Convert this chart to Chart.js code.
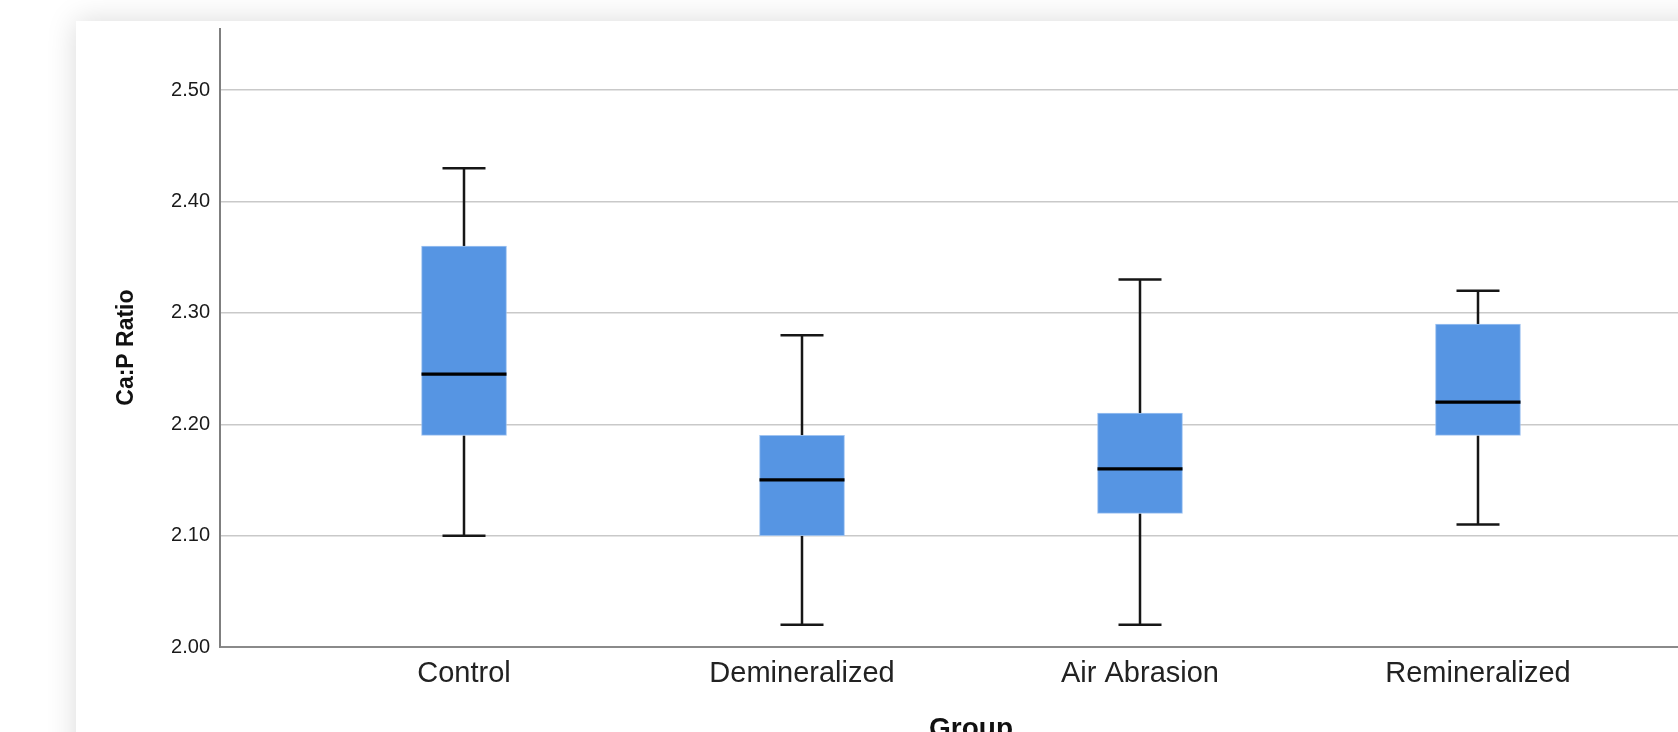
<!DOCTYPE html>
<html>
<head>
<meta charset="utf-8">
<script src="https://cdn.jsdelivr.net/npm/chart.js@4/dist/chart.umd.min.js"></script>
<style>
  html, body { margin: 0; padding: 0; width: 1678px; height: 732px; overflow: hidden; background: #ffffff; }
  #card { position: absolute; left: 76px; top: 21px; width: 1720px; height: 780px; background: #ffffff;
          box-shadow: 0 0 28px rgba(0,0,0,0.15); }
  #c { position: absolute; left: 76px; top: 21px; }
</style>
</head>
<body>
<div id="card"></div>
<canvas id="c" width="1646" height="725"></canvas>
<script>
const categories = ['Control', 'Demineralized', 'Air Abrasion', 'Remineralized'];
const whiskerLow  = [2.10, 2.02, 2.02, 2.11];
const q1          = [2.19, 2.10, 2.12, 2.19];
const median      = [2.245, 2.15, 2.16, 2.22];
const q3          = [2.36, 2.19, 2.21, 2.29];
const whiskerHigh = [2.43, 2.28, 2.33, 2.32];
const yTicks = [2.00, 2.10, 2.20, 2.30, 2.40, 2.50];

const BOX_W = 85;
const CAP_W = 43;

const boxPlugin = {
  id: 'boxWhiskers',
  beforeDatasetsDraw(chart) {
    const { ctx, scales: { x, y } } = chart;
    ctx.save();
    ctx.strokeStyle = '#161616';
    ctx.lineWidth = 2.5;
    categories.forEach((c, i) => {
      const cx = Math.round(x.getPixelForValue(i));
      const yl = y.getPixelForValue(whiskerLow[i]);
      const y1 = y.getPixelForValue(q1[i]);
      const y3 = y.getPixelForValue(q3[i]);
      const yh = y.getPixelForValue(whiskerHigh[i]);
      ctx.beginPath();
      ctx.moveTo(cx, yl); ctx.lineTo(cx, y1);
      ctx.moveTo(cx, y3); ctx.lineTo(cx, yh);
      ctx.moveTo(cx - CAP_W / 2, yl); ctx.lineTo(cx + CAP_W / 2, yl);
      ctx.moveTo(cx - CAP_W / 2, yh); ctx.lineTo(cx + CAP_W / 2, yh);
      ctx.stroke();
    });
    ctx.restore();
  },
  afterDatasetsDraw(chart) {
    const { ctx, scales: { x, y } } = chart;
    ctx.save();
    ctx.strokeStyle = '#000000';
    ctx.lineWidth = 3.3;
    categories.forEach((c, i) => {
      const cx = Math.round(x.getPixelForValue(i));
      const ym = y.getPixelForValue(median[i]);
      ctx.beginPath();
      ctx.moveTo(cx - BOX_W / 2, ym); ctx.lineTo(cx + BOX_W / 2, ym);
      ctx.stroke();
    });
    ctx.restore();
  }
};

new Chart(document.getElementById('c'), {
  type: 'bar',
  data: {
    datasets: [{
      data: categories.map((c, i) => ({ x: i, y: [q1[i], q3[i]] })),
      backgroundColor: '#5695e3',
      borderColor: 'rgba(150,190,240,0.9)',
      borderWidth: 1,
      borderSkipped: false,
      barThickness: BOX_W
    }]
  },
  options: {
    responsive: false,
    animation: false,
    devicePixelRatio: 1,
    layout: { padding: { top: 8, left: 0, right: 0, bottom: 0 } },
    plugins: { legend: { display: false }, tooltip: { enabled: false } },
    scales: {
      x: {
        type: 'linear',
        offset: false,
        min: -0.722,
        max: 3.722,
        afterBuildTicks: (s) => { s.ticks = categories.map((c, i) => ({ value: i })); },
        afterFit: (s) => { s.height = 99; s.paddingLeft = 0; s.paddingRight = 0; },
        ticks: {
          autoSkip: false, maxRotation: 0, padding: 10,
          color: '#222222',
          font: { family: '"Liberation Sans", Arial, sans-serif', size: 29 },
          callback: (v) => categories[Math.round(v)]
        },
        grid: { display: false, drawTicks: false },
        border: { display: true, color: '#8a8a8a', width: 2 },
        title: {
          display: true, text: 'Group', color: '#111111',
          font: { family: '"Liberation Sans", Arial, sans-serif', size: 28, weight: 'bold' },
          padding: { top: 0, bottom: 0 }
        }
      },
      y: {
        min: 2.0,
        max: 2.555,
        afterBuildTicks: (s) => { s.ticks = yTicks.map(v => ({ value: v })); },
        afterFit: (s) => { s.width = 144; s.paddingTop = 0; s.paddingBottom = 0; },
        ticks: {
          padding: 10, color: '#1a1a1a',
          font: { family: '"Liberation Sans", Arial, sans-serif', size: 20 },
          callback: (v) => Number(v).toFixed(2)
        },
        grid: { color: '#c9c9c9', lineWidth: 1.5, drawTicks: false },
        border: { display: true, color: '#7f7f7f', width: 2 },
        title: {
          display: true, text: 'Ca:P Ratio   ', color: '#111111',
          font: { family: '"Liberation Sans", Arial, sans-serif', size: 23, weight: 'bold' },
          padding: { top: 37, bottom: 0 }
        }
      }
    }
  },
  plugins: [boxPlugin]
});
</script>
</body>
</html>
